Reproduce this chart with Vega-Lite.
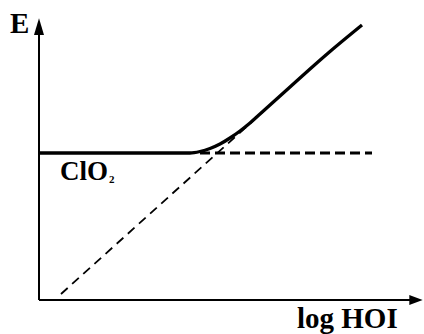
{
  "$schema": "https://vega.github.io/schema/vega-lite/v6.json",
  "width": 424,
  "height": 334,
  "autosize": {"type": "none"},
  "padding": 0,
  "background": "white",
  "config": {"view": {"stroke": null}},
  "datasets": {
    "axes": [
      {"x": 0, "y": 0, "x2": 0, "y2": 272},
      {"x": 0, "y": 0, "x2": 374, "y2": 0}
    ],
    "arrowUp": [{"x": 0, "y": 281.7}],
    "arrowRight": [{"x": 383.7, "y": 0}],
    "potential": [
      {"x": 0, "y": 147},
      {"x": 151, "y": 147},
      {"x": 161, "y": 148.5},
      {"x": 171, "y": 151.5},
      {"x": 181, "y": 156},
      {"x": 191, "y": 162},
      {"x": 201, "y": 169},
      {"x": 211, "y": 177},
      {"x": 221, "y": 186},
      {"x": 231, "y": 195},
      {"x": 251, "y": 213},
      {"x": 271, "y": 231},
      {"x": 291, "y": 248.5},
      {"x": 323, "y": 275}
    ],
    "plateau": [{"x": 161, "y": 147, "x2": 333, "y2": 147}],
    "slope": [{"x": 22, "y": 6, "x2": 226, "y2": 190}],
    "axisTitles": [
      {"x": -29, "y": 267, "text": "E"},
      {"x": 258, "y": -28, "text": "log HOI"}
    ],
    "labels": [{"x": 21, "y": 120, "text": "ClO"}],
    "subscripts": [{"x": 70, "y": 117, "text": "2"}]
  },
  "encoding": {
    "x": {"field": "x", "type": "quantitative", "scale": {"domain": [-39, 385], "nice": false, "zero": false}, "axis": null},
    "y": {"field": "y", "type": "quantitative", "scale": {"domain": [-34, 300], "nice": false, "zero": false}, "axis": null}
  },
  "layer": [
    {
      "data": {"name": "axes"},
      "mark": {"type": "rule", "color": "black", "strokeWidth": 2},
      "encoding": {"x2": {"field": "x2"}, "y2": {"field": "y2"}}
    },
    {
      "data": {"name": "arrowUp"},
      "mark": {"type": "point", "shape": "M0,0L0.6,2L-0.6,2Z", "filled": true, "color": "black", "opacity": 1, "size": 279, "strokeWidth": 0}
    },
    {
      "data": {"name": "arrowRight"},
      "mark": {"type": "point", "shape": "M0,0L-2,-0.75L-2,0.75Z", "filled": true, "color": "black", "opacity": 1, "size": 180, "strokeWidth": 0}
    },
    {
      "data": {"name": "plateau"},
      "mark": {"type": "rule", "color": "black", "strokeWidth": 3, "strokeDash": [10, 5], "strokeCap": "butt"},
      "encoding": {"x2": {"field": "x2"}, "y2": {"field": "y2"}}
    },
    {
      "data": {"name": "slope"},
      "mark": {"type": "rule", "color": "black", "strokeWidth": 1.8, "strokeDash": [9, 6], "strokeCap": "butt"},
      "encoding": {"x2": {"field": "x2"}, "y2": {"field": "y2"}}
    },
    {
      "data": {"name": "potential"},
      "mark": {"type": "line", "color": "black", "strokeWidth": 3.3, "interpolate": "monotone", "strokeCap": "butt"}
    },
    {
      "data": {"name": "axisTitles"},
      "mark": {"type": "text", "font": "Liberation Serif", "fontWeight": "bold", "fontSize": 29, "align": "left", "baseline": "alphabetic", "color": "black"},
      "encoding": {"text": {"field": "text"}}
    },
    {
      "data": {"name": "labels"},
      "mark": {"type": "text", "font": "Liberation Serif", "fontWeight": "bold", "fontSize": 27, "align": "left", "baseline": "alphabetic", "color": "black"},
      "encoding": {"text": {"field": "text"}}
    },
    {
      "data": {"name": "subscripts"},
      "mark": {"type": "text", "font": "Liberation Serif", "fontWeight": "bold", "fontSize": 11, "align": "left", "baseline": "alphabetic", "color": "black"},
      "encoding": {"text": {"field": "text"}}
    }
  ]
}
